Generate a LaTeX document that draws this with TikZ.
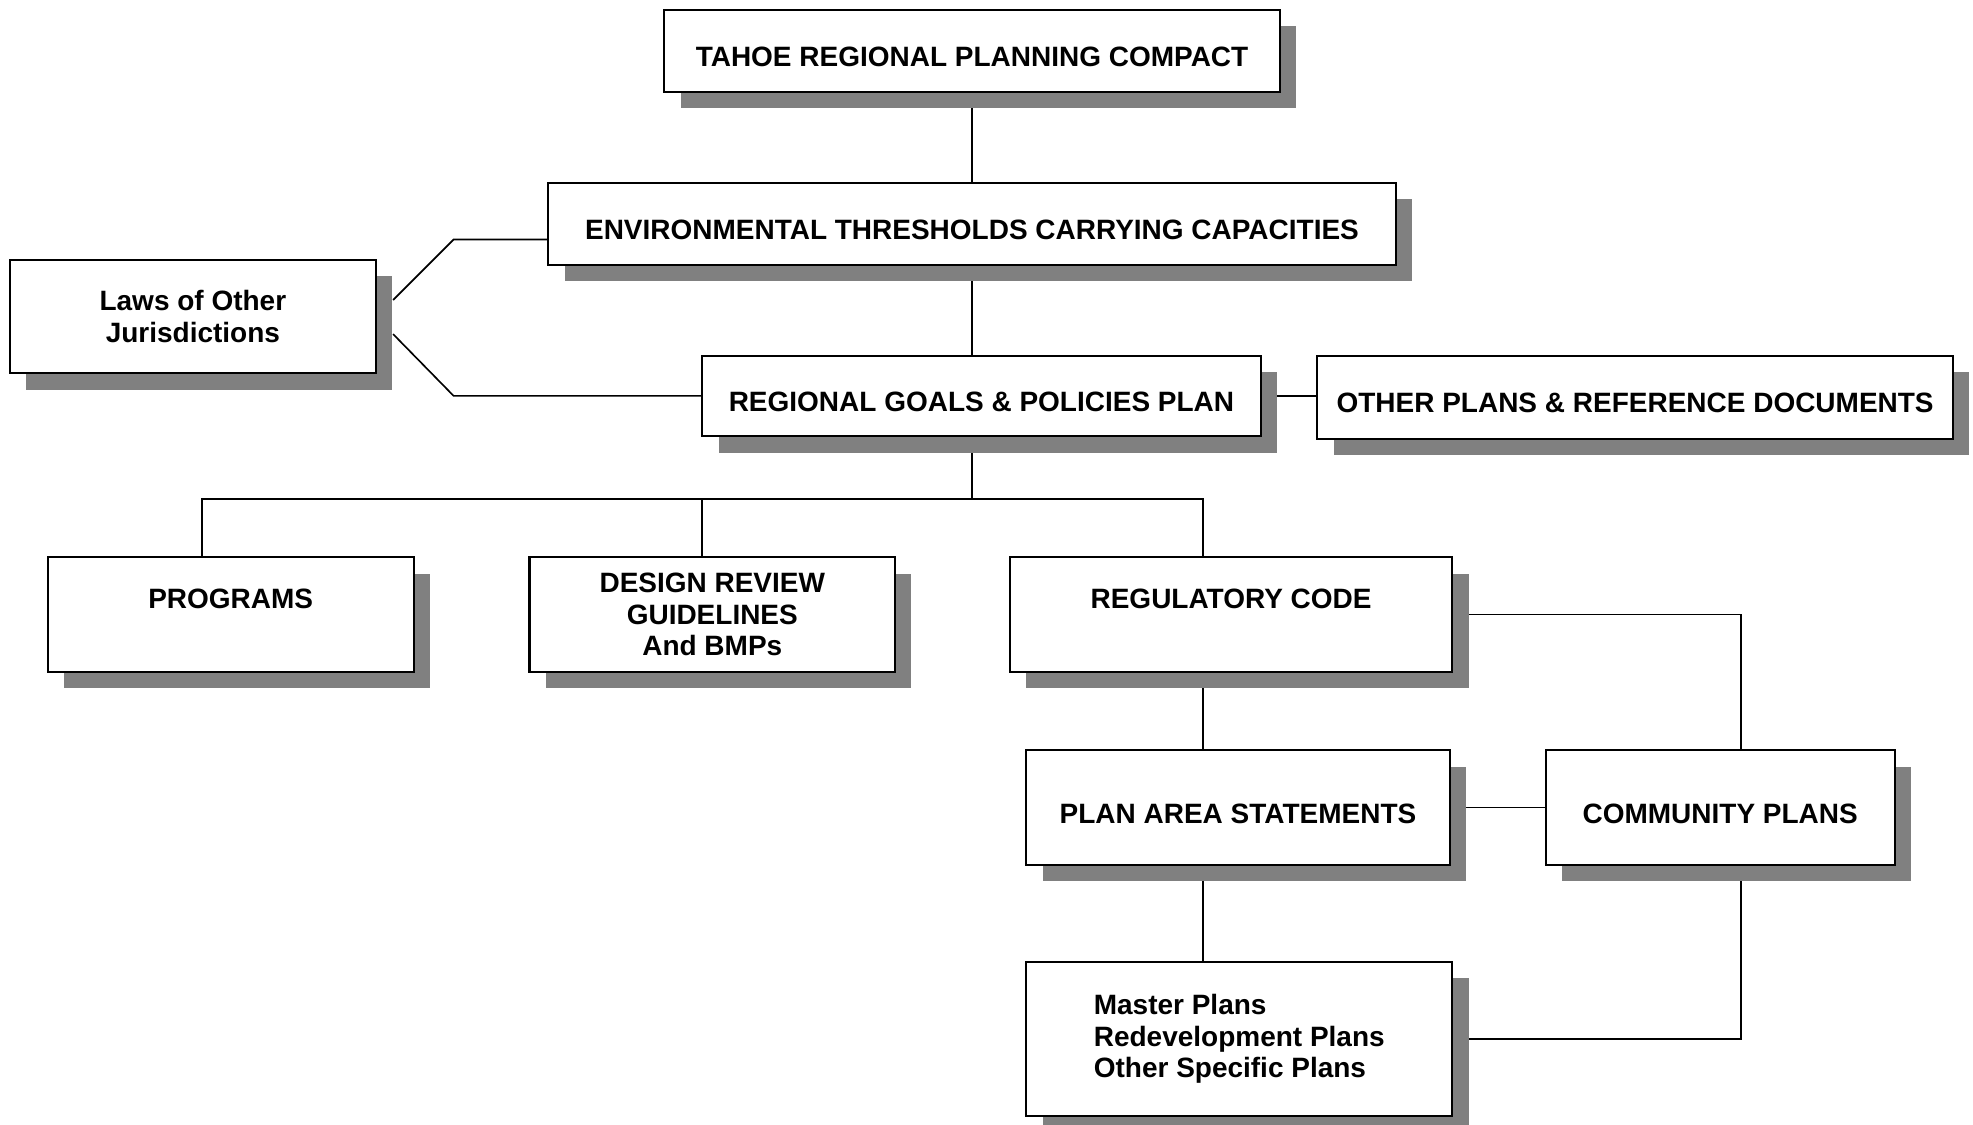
\documentclass[tikz,border=0pt]{standalone}
\usepackage{fontspec}
\setmainfont{Liberation Sans}
\usetikzlibrary{shadows,calc}
\pgfdeclarelayer{background}
\pgfsetlayers{background,main}
\definecolor{shadowgray}{RGB}{128,128,128}
\begin{document}
\begin{tikzpicture}[x=0.5pt,y=-0.5pt,
  box/.style={draw,fill=white,line width=0.8pt,inner sep=0pt,align=center,
    font=\fontsize{11.1}{12.6}\selectfont\bfseries,
    drop shadow={shadow xshift=6.5pt,shadow yshift=-6.5pt,fill=shadowgray,opacity=1}},
  oneline/.style={text height=12.5pt,text depth=0pt},
  link/.style={line width=0.65pt}]
\useasboundingbox (0,0) rectangle (1565,892.3);
\node[box,oneline,minimum width=244pt,minimum height=32.5pt] (tahoe) at (771,40.5) {TAHOE REGIONAL PLANNING COMPACT};
\node[box,oneline,minimum width=336pt,minimum height=32.5pt] (env) at (771,177.5) {ENVIRONMENTAL THRESHOLDS CARRYING CAPACITIES};
\node[box,minimum width=145pt,minimum height=45pt] (laws) at (153,251) {Laws of Other\\Jurisdictions};
\node[box,oneline,minimum width=221.5pt,minimum height=32pt] (goals) at (778.5,314) {REGIONAL GOALS \& POLICIES PLAN};
\node[box,oneline,minimum width=252pt,minimum height=33pt] (other) at (1297,315) {OTHER PLANS \& REFERENCE DOCUMENTS};
\node[box,minimum width=145pt,minimum height=45.5pt] (programs) at (183,487.5) {PROGRAMS\\\mbox{}};
\node[box,minimum width=145pt,minimum height=45.5pt] (design) at (565,487.5) {DESIGN REVIEW\\GUIDELINES\\And BMPs};
\node[box,minimum width=175.5pt,minimum height=45.5pt] (regcode) at (976.5,487.5) {REGULATORY CODE\\\mbox{}};
\node[box,oneline,minimum width=168pt,minimum height=45.5pt] (planarea) at (982,640.5) {PLAN AREA STATEMENTS};
\node[box,oneline,minimum width=138.5pt,minimum height=45.5pt] (community) at (1364.5,640.5) {COMMUNITY PLANS};
\node[box,minimum width=169pt,minimum height=61pt,align=left] (master) at (983,824) {Master Plans\\Redevelopment Plans\\Other Specific Plans};
\coordinate (bus) at (771,396);
\coordinate (spine) at (954,0);
\coordinate (rightspine) at (1381,0);
\begin{pgfonlayer}{background}
\draw[link] (tahoe.south) -- (env.north);
\draw[link] (env.south) -- (env.south |- goals.north);
\draw[link] ($(laws.east)+(13,-13)$) -- ++(48,-48) -- ($(env.west)+(0,12.5)$);
\draw[link] ($(laws.east)+(13,14)$) -- ++(48,49) -- (goals.west);
\draw[link] (goals.east) -- (goals.east -| other.west);
\draw[link] (bus |- goals.south) -- (bus);
\draw[link] ($(programs.north)+(-23,0)$) |- (bus) -| (spine |- regcode.north);
\draw[link] ($(design.north)+(-8,0)$) -- ++(0,-46);
\draw[link] (spine |- regcode.south) -- (spine |- planarea.north);
\draw[link] (spine |- planarea.south) -- (spine |- master.north);
\draw[link] (planarea.east) -- (community.west);
\draw[link] (regcode.east) -| (rightspine |- community.north);
\draw[link] (rightspine |- community.south) |- (master.east);
\end{pgfonlayer}
\end{tikzpicture}
\end{document}
